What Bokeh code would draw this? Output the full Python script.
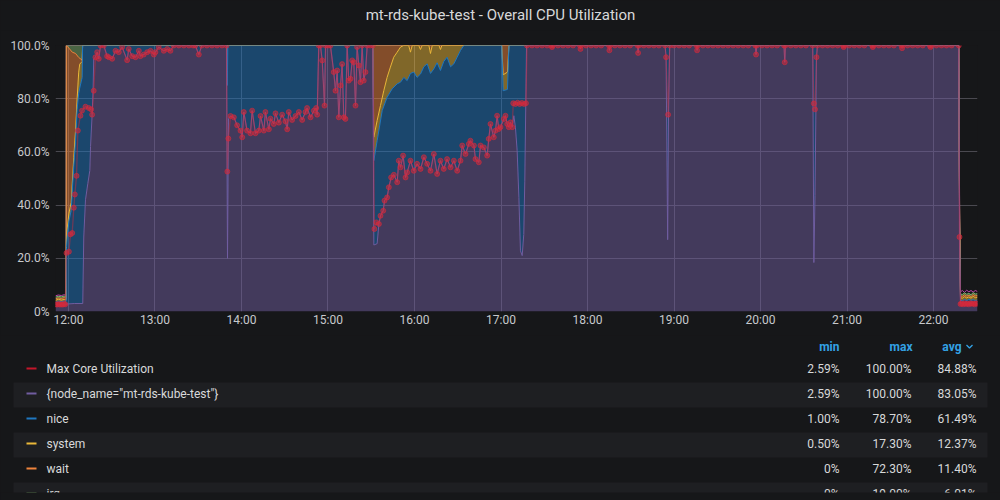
import numpy as np
from bokeh.plotting import figure
from bokeh.layouts import column
from bokeh.models import FixedTicker, Range1d
from bokeh.core.properties import value
from bokeh.embed import file_html
from bokeh.resources import INLINE

# ---------------- data (time = minutes after 12:00, value = %) ----------------
TITLE = "mt-rds-kube-test - Overall CPU Utilization"

X_TICKS = [0, 60, 120, 180, 240, 300, 360, 420, 480, 540, 600]
X_TICK_LABELS = ["12:00", "13:00", "14:00", "15:00", "16:00", "17:00",
                 "18:00", "19:00", "20:00", "21:00", "22:00"]
Y_TICKS = [0, 20, 40, 60, 80, 100]
Y_TICK_LABELS = ["0%", "20.0%", "40.0%", "60.0%", "80.0%", "100.0%"]

# {node_name="mt-rds-kube-test"} (violet, stacked base)
NODE = [(-9.0, 2.8), (-7.0, 2.6), (-5.0, 2.9), (-3.0, 2.7), (-1.6, 2.8),
        (4.0, 3.0), (9.9, 3.0),
        (10.6, 28.0), (11.8, 42.0), (13.4, 48.0), (14.8, 53.0), (15.3, 62.0), (16.4, 74.0), (17.1, 84.0), (17.5, 95.0),
        (18.7, 95.6), (19.9, 97.5), (21.0, 95.0), (22.2, 100.0), (24.5, 100.0), (26.8, 96.0), (28.0, 95.6), (30.3, 95.0),
        (32.6, 98.0), (34.9, 97.5), (37.2, 99.4), (40.7, 94.5), (41.8, 98.7), (44.2, 96.0), (46.5, 95.6), (48.8, 98.0),
        (49.9, 96.0), (52.2, 96.6), (54.6, 97.5), (56.9, 98.0), (59.2, 96.6), (60.3, 97.5), (62.6, 99.4), (66.1, 98.0),
        (68.5, 98.7), (70.7, 98.0), (73.0, 100.0), (88.0, 100.0), (90.4, 96.6), (92.5, 100.0), (109.6, 100.0),
        (110.3, 20.0), (111.0, 72.5), (112.4, 73.5), (114.7, 73.0), (117.0, 70.0), (119.3, 68.0), (120.5, 65.5),
        (121.6, 75.0), (123.9, 68.0), (126.2, 67.0), (127.4, 75.5), (129.7, 67.0), (132.0, 68.0), (133.2, 73.5),
        (135.5, 68.0), (136.6, 75.0), (139.0, 68.5), (140.1, 72.5), (142.4, 70.5), (143.6, 74.5), (145.9, 71.0),
        (148.2, 74.0), (150.5, 71.5), (151.7, 68.5), (152.8, 75.0), (155.1, 72.0), (157.5, 73.5), (159.8, 75.0),
        (162.1, 72.0), (164.4, 75.0), (165.5, 76.5), (167.9, 73.0), (170.2, 75.5), (171.8, 76.5), (172.5, 74.0),
        (173.6, 100.0), (174.8, 100.0), (176.0, 94.4), (177.6, 77.4), (178.3, 100.0), (181.7, 100.0), (184.0, 90.0),
        (185.2, 83.0), (186.4, 90.6), (187.5, 73.0), (188.7, 85.0), (189.8, 93.0), (191.0, 73.0), (192.1, 72.4),
        (193.3, 100.0), (194.4, 86.8), (195.6, 87.5), (196.8, 94.4), (197.9, 93.7), (199.1, 77.4), (200.2, 99.4),
        (201.4, 92.5), (202.5, 86.2), (203.7, 100.0), (204.8, 86.8), (206.0, 90.0), (207.2, 100.0), (211.1, 100.0),
        (211.8, 25.0), (214.1, 25.5), (215.3, 32.9), (216.4, 36.0), (218.3, 37.9), (219.2, 41.7), (221.0, 42.9),
        (222.2, 46.7), (223.8, 50.4), (225.7, 51.4), (228.0, 48.6), (229.1, 56.7), (230.3, 54.2), (232.1, 58.6),
        (233.8, 50.4), (234.9, 52.3), (237.2, 56.7), (239.5, 52.9), (241.8, 55.5), (244.2, 53.6), (246.5, 58.0),
        (248.8, 55.5), (251.1, 52.9), (253.4, 59.2), (255.7, 51.7), (258.0, 56.7), (260.3, 53.6), (262.6, 57.3),
        (265.0, 54.2), (267.3, 56.7), (269.6, 52.9), (271.9, 56.7), (273.1, 62.4), (275.4, 59.2), (277.7, 63.0),
        (278.8, 64.2), (281.2, 62.4), (282.3, 57.3), (284.6, 56.1), (285.8, 62.4), (288.1, 61.7), (290.4, 58.6),
        (291.5, 64.9), (292.7, 70.5), (295.0, 65.5), (296.2, 68.0), (297.3, 73.6), (298.5, 68.6), (299.6, 69.3),
        (302.0, 72.4), (303.1, 73.6), (304.3, 70.5), (305.4, 69.3), (306.6, 71.1), (307.8, 69.3), (308.9, 73.6),
        (310.0, 69.3), (311.2, 60.5), (312.4, 42.9), (313.5, 22.8), (314.7, 21.0), (315.8, 29.0), (316.5, 49.0),
        (317.7, 100.0),
        (335.0, 100.0), (335.4, 99.4), (336.0, 100.0), (354.7, 100.0), (355.1, 98.7), (355.6, 100.0),
        (374.8, 100.0), (375.2, 98.2), (375.7, 100.0), (394.7, 100.0), (395.1, 97.2), (395.6, 100.0),
        (413.8, 100.0), (414.5, 95.6), (415.6, 27.0), (416.2, 74.0), (417.0, 100.0),
        (435.6, 100.0), (436.0, 98.2), (436.5, 100.0), (476.4, 100.0), (476.9, 96.6), (477.4, 100.0),
        (496.3, 100.0), (496.8, 93.7), (497.3, 100.0),
        (516.2, 100.0), (517.0, 18.4), (517.8, 43.6), (518.8, 95.6), (519.5, 100.0),
        (537.2, 100.0), (537.7, 99.4), (538.2, 100.0), (557.4, 100.0), (557.9, 99.4), (558.4, 100.0),
        (577.7, 100.0), (578.2, 99.0), (578.7, 100.0), (597.4, 100.0), (597.9, 99.4), (598.4, 100.0),
        (617.5, 100.0), (618.1, 26.0), (618.7, 3.1), (620.0, 2.9), (621.5, 3.3), (623.0, 2.8), (624.5, 3.2),
        (626.0, 2.9), (627.5, 3.3), (629.0, 3.0), (630.5, 3.1)]

# stacked top edge of "nice" (blue)
NICE_TOP = [(-9.0, 3.6), (-7.0, 3.9), (-5.0, 3.7), (-3.0, 3.9), (-1.6, 3.8), (-1.4, 24.0), (-0.9, 28.0),
            (0.3, 34.0), (1.9, 38.0), (2.6, 45.0), (3.7, 55.0), (4.9, 64.0), (6.0, 76.0), (7.1, 82.0),
            (7.8, 84.0), (9.5, 88.0), (9.8, 100.0), (110.0, 100.0), (110.2, 85.0), (110.5, 100.0),
            (211.1, 100.0), (211.8, 56.7), (214.1, 64.2), (217.6, 75.5), (221.0, 80.5), (224.5, 83.7),
            (228.0, 85.6), (230.3, 86.2), (232.6, 88.0), (234.9, 86.8), (237.2, 89.5), (239.5, 90.0),
            (241.8, 88.0), (244.2, 89.3), (246.5, 92.0), (248.8, 93.1), (251.1, 89.5), (253.4, 91.2),
            (255.7, 93.5), (258.0, 90.6), (260.3, 94.0), (262.6, 95.6), (265.0, 92.0), (267.3, 93.1),
            (269.6, 95.6), (271.9, 98.1), (274.2, 100.0), (300.5, 100.0), (301.5, 83.0), (304.5, 83.5),
            (305.5, 100.0), (617.5, 100.0), (618.1, 27.0), (618.7, 4.3), (620.0, 4.0), (621.5, 4.5),
            (623.0, 4.1), (624.5, 4.6), (626.0, 4.2), (627.5, 4.5), (629.0, 4.1), (630.5, 4.3)]

# stacked top edge of "system" (yellow)
SYS_TOP = [(-9.0, 4.2), (-7.0, 4.6), (-5.0, 4.3), (-3.0, 4.5), (-1.6, 4.4), (-1.4, 27.0), (-0.9, 31.0),
           (0.3, 37.0), (1.9, 41.0), (2.6, 48.0), (3.7, 58.0), (4.9, 68.0), (6.0, 80.0), (7.1, 90.0),
           (7.8, 93.0), (9.5, 94.0), (9.8, 100.0), (211.1, 100.0), (211.8, 65.5), (214.1, 71.8),
           (216.4, 77.4), (218.7, 83.0), (221.0, 88.0), (223.3, 91.9), (225.6, 95.6), (228.0, 97.5),
           (230.3, 99.4), (232.4, 100.0), (236.0, 100.0), (237.2, 97.5), (238.4, 100.0), (243.0, 100.0),
           (244.1, 98.5), (245.3, 100.0), (250.0, 100.0), (251.1, 97.0), (252.3, 100.0), (257.0, 100.0),
           (258.0, 98.5), (259.0, 100.0), (300.5, 100.0), (301.5, 89.0), (304.5, 90.0), (305.5, 100.0),
           (617.5, 100.0), (618.1, 31.0), (618.7, 5.2), (620.0, 5.0), (621.5, 5.6), (623.0, 5.1),
           (624.5, 5.5), (626.0, 5.0), (627.5, 5.7), (629.0, 5.2), (630.5, 5.4)]

# stacked top edge of "wait" (orange)
WAIT_TOP = [(-9.0, 4.8), (-7.0, 5.1), (-5.0, 4.9), (-3.0, 5.2), (-1.6, 5.0), (-1.5, 100.0), (0.3, 99.0),
            (2.6, 97.5), (4.9, 97.0), (7.1, 95.5), (9.5, 94.5), (9.8, 100.0), (617.5, 100.0), (618.1, 34.0),
            (618.7, 5.9), (620.0, 5.7), (621.5, 6.3), (623.0, 5.8), (624.5, 6.1), (626.0, 5.6), (627.5, 6.4),
            (629.0, 5.9), (630.5, 6.0)]

# stacked top edge of "irq" (green)
IRQ_TOP = [(-9.0, 5.4), (-7.0, 5.7), (-5.0, 5.5), (-3.0, 5.8), (-1.6, 5.6), (-1.5, 100.0), (617.5, 100.0),
           (618.1, 37.0), (618.7, 6.6), (620.0, 6.4), (621.5, 7.0), (623.0, 6.5), (624.5, 6.8), (626.0, 6.3),
           (627.5, 7.1), (629.0, 6.6), (630.5, 6.7)]

# stacked top edge of "softirq" (pink line)
SOFTIRQ_TOP = [(-9.0, 5.9), (-7.0, 6.2), (-5.0, 6.0), (-3.0, 6.3), (-1.6, 6.1), (-1.5, 100.0), (617.5, 100.0),
               (618.1, 40.0), (618.7, 7.4), (620.0, 7.9), (621.5, 7.2), (623.0, 8.0), (624.5, 7.4), (626.0, 7.9),
               (627.5, 7.3), (629.0, 7.9), (630.5, 7.5)]

# Max Core Utilization (red points)
MAX_CORE = [(-9.0, 2.7), (-8.0, 2.6), (-7.0, 2.8), (-6.0, 2.6), (-5.0, 2.7), (-4.0, 2.6), (-3.0, 2.8), (-2.2, 2.7),
            (-1.4, 22.0), (0.3, 22.5), (1.4, 29.0), (2.6, 29.5), (3.7, 39.0), (4.4, 44.0), (5.6, 51.0), (6.5, 68.0),
            (8.3, 73.6), (9.4, 75.5), (11.8, 77.0), (14.1, 76.5), (15.7, 76.0), (16.4, 74.0), (17.5, 83.0),
            (18.7, 95.6), (19.9, 97.5), (21.0, 95.0), (22.2, 100.0), (24.5, 100.0), (26.8, 96.0), (28.0, 95.6),
            (30.3, 95.0), (32.6, 98.0), (34.9, 97.5), (37.2, 99.4), (40.7, 94.5), (41.8, 98.7), (44.2, 96.0),
            (46.5, 95.6), (48.8, 98.0), (49.9, 96.0), (52.2, 96.6), (54.6, 97.5), (56.9, 98.0), (59.2, 96.6),
            (60.3, 97.5), (62.6, 99.4), (66.1, 98.0), (68.5, 98.7), (70.7, 98.0), (73.0, 100.0), (76.5, 100.0),
            (80.0, 100.0), (83.5, 100.0), (86.5, 100.0), (88.0, 100.0), (90.4, 96.6), (92.5, 100.0), (96.0, 100.0),
            (99.5, 100.0), (103.0, 100.0), (106.5, 100.0), (109.6, 100.0),
            (110.2, 52.6), (110.9, 65.0), (112.4, 73.5), (114.7, 73.0), (117.0, 70.0), (119.3, 68.0), (120.5, 65.5),
            (121.6, 75.0), (123.9, 68.0), (126.2, 67.0), (127.4, 75.5), (129.7, 67.0), (132.0, 68.0), (133.2, 73.5),
            (135.5, 68.0), (136.6, 75.0), (139.0, 68.5), (140.1, 72.5), (142.4, 70.5), (143.6, 74.5), (145.9, 71.0),
            (148.2, 74.0), (150.5, 71.5), (151.7, 68.5), (152.8, 75.0), (155.1, 72.0), (157.5, 73.5), (159.8, 75.0),
            (162.1, 72.0), (164.4, 75.0), (165.5, 76.5), (167.9, 73.0), (170.2, 75.5), (171.8, 76.5), (172.5, 74.0),
            (173.6, 100.0), (174.8, 100.0), (176.0, 94.4), (177.6, 77.4), (178.3, 100.0), (180.0, 100.0),
            (181.7, 100.0), (184.0, 90.0),
            (185.2, 83.0), (186.4, 90.6), (187.5, 73.0), (188.7, 85.0), (189.8, 93.0), (191.0, 73.0), (192.1, 72.4),
            (193.3, 100.0), (194.4, 86.8), (195.6, 87.5), (196.8, 94.4), (197.9, 93.7), (199.1, 77.4), (200.2, 99.4),
            (201.4, 92.5), (202.5, 86.2), (203.7, 100.0), (204.8, 86.8), (206.0, 90.0), (207.2, 100.0), (209.2, 100.0),
            (211.1, 100.0),
            (212.2, 31.0), (213.6, 33.5), (215.3, 32.9), (216.4, 36.0), (218.3, 37.9), (219.2, 41.7), (221.0, 42.9),
            (222.2, 46.7), (223.8, 50.4), (225.7, 51.4), (228.0, 48.6), (229.1, 56.7), (230.3, 54.2), (232.1, 58.6),
            (233.8, 50.4), (234.9, 52.3), (237.2, 56.7), (239.5, 52.9), (241.8, 55.5), (244.2, 53.6), (246.5, 58.0),
            (248.8, 55.5), (251.1, 52.9), (253.4, 59.2), (255.7, 51.7), (258.0, 56.7), (260.3, 53.6), (262.6, 57.3),
            (265.0, 54.2), (267.3, 56.7), (269.6, 52.9), (271.9, 56.7), (273.1, 62.4), (275.4, 59.2), (277.7, 63.0),
            (278.8, 64.2), (281.2, 62.4), (282.3, 57.3), (284.6, 56.1), (285.8, 62.4), (288.1, 61.7), (290.4, 58.6),
            (291.5, 64.9), (292.7, 70.5), (295.0, 65.5), (296.2, 68.0), (297.3, 73.6), (298.5, 68.6), (299.6, 69.3),
            (302.0, 72.4), (303.1, 73.6), (304.3, 70.5), (305.4, 69.3), (306.6, 71.1), (307.8, 69.3),
            (308.5, 78.3), (310.0, 78.0), (311.5, 78.5), (313.0, 78.0), (314.5, 78.4), (316.0, 78.0), (317.3, 78.3),
            (318.0, 100.0), (321.5, 100.0), (325.0, 100.0), (328.5, 100.0), (332.0, 100.0),
            (335.0, 100.0), (335.4, 99.4), (336.0, 100.0), (339.5, 100.0), (343.0, 100.0), (346.5, 100.0),
            (350.0, 100.0), (354.7, 100.0), (355.1, 98.7), (355.6, 100.0), (359.0, 100.0), (362.5, 100.0),
            (366.0, 100.0), (369.5, 100.0), (374.8, 100.0), (375.2, 98.2), (375.7, 100.0), (379.0, 100.0),
            (382.5, 100.0), (386.0, 100.0), (389.5, 100.0), (394.7, 100.0), (395.1, 97.2), (395.6, 100.0),
            (399.0, 100.0), (402.5, 100.0), (406.0, 100.0), (409.5, 100.0),
            (413.8, 100.0), (414.5, 95.6), (415.9, 74.0), (417.0, 100.0), (420.0, 100.0), (423.5, 100.0),
            (427.0, 100.0), (430.5, 100.0),
            (435.6, 100.0), (436.0, 98.2), (436.5, 100.0), (440.0, 100.0), (443.5, 100.0), (447.0, 100.0),
            (450.5, 100.0), (454.0, 100.0), (457.5, 100.0), (461.0, 100.0), (464.5, 100.0), (468.0, 100.0),
            (471.5, 100.0), (476.4, 100.0), (476.9, 96.6), (477.4, 100.0), (481.0, 100.0), (484.5, 100.0),
            (488.0, 100.0), (491.5, 100.0), (496.3, 100.0), (496.8, 93.7), (497.3, 100.0), (501.0, 100.0),
            (504.5, 100.0), (508.0, 100.0), (511.5, 100.0),
            (516.2, 100.0), (517.0, 78.2), (517.8, 76.0), (518.8, 95.6), (519.5, 100.0), (523.0, 100.0),
            (526.5, 100.0), (530.0, 100.0), (533.5, 100.0),
            (537.2, 100.0), (537.7, 99.4), (538.2, 100.0), (541.5, 100.0), (545.0, 100.0), (548.5, 100.0),
            (552.0, 100.0), (557.4, 100.0), (557.9, 99.4), (558.4, 100.0), (562.0, 100.0), (565.5, 100.0),
            (569.0, 100.0), (572.5, 100.0), (577.7, 100.0), (578.2, 99.0), (578.7, 100.0), (582.0, 100.0),
            (585.5, 100.0), (589.0, 100.0), (592.5, 100.0), (597.4, 100.0), (597.9, 99.4), (598.4, 100.0),
            (602.0, 100.0), (605.5, 100.0), (609.0, 100.0), (612.5, 100.0),
            (617.5, 100.0), (618.0, 28.0), (618.7, 2.8), (619.5, 3.0), (620.5, 2.7), (621.5, 3.1), (622.5, 2.8),
            (623.5, 3.0), (624.5, 2.7), (625.5, 3.1), (626.5, 2.9), (627.5, 3.0), (628.5, 2.7), (629.5, 3.1),
            (630.5, 2.9)]

LEGEND_NAMES = ["Max Core Utilization", '{node_name="mt-rds-kube-test"}', "nice", "system", "wait", "irq"]
LEGEND_COLORS = ["#c4162a", "#705da0", "#1f78c1", "#eab839", "#ef843c", "#7eb26d"]
LEGEND_MIN = ["2.59%", "2.59%", "1.00%", "0.50%", "0%", "0%"]
LEGEND_MAX = ["100.00%", "100.00%", "78.70%", "17.30%", "72.30%", "19.00%"]
LEGEND_AVG = ["84.88%", "83.05%", "61.49%", "12.37%", "11.40%", "6.01%"]
LEGEND_HEADERS = ["min", "max", "avg"]

# ---------------- styling ----------------
BG = "#161719"
ROW_BG = "#1e1f22"
TEXT = "#d8d9da"
AXIS_TEXT = "#c7c9cc"
HEADER = "#33a2e5"
C_NODE, C_NICE, C_SYS, C_WAIT, C_IRQ, C_SOFT, C_MAX = "#705da0", "#1f78c1", "#eab839", "#ef843c", "#7eb26d", "#ba43a9", "#d42a3c"
FONT = "Roboto"


def unzip(pairs):
    a = np.array(pairs, dtype=float)
    return a[:, 0], np.minimum(a[:, 1], 100.0)


def blank(w, h, yr):
    f = figure(width=w, height=h, x_range=Range1d(0, w), y_range=Range1d(*yr),
               output_backend="svg", toolbar_location=None, x_axis_type=None, y_axis_type=None,
               min_border=0, frame_align=False)
    f.grid.visible = False
    f.outline_line_color = None
    f.background_fill_color = BG
    f.border_fill_color = BG
    return f


# title
ft = blank(1000, 30, (30, 0))
ft.text(x=[500], y=[14], text=[TITLE], text_align="center", text_baseline="middle",
        text_font=value(FONT), text_font_size="15px", text_color=TEXT)

# main chart
p = figure(width=1000, height=305, x_range=Range1d(-9.0, 630.5), y_range=Range1d(0, 100),
           output_backend="svg", toolbar_location=None, frame_align=False,
           min_border_left=55, min_border_right=23, min_border_top=15, min_border_bottom=24)
p.background_fill_color = BG
p.border_fill_color = BG
p.outline_line_color = None

for ax, ticks, labels in ((p.xaxis, X_TICKS, X_TICK_LABELS), (p.yaxis, Y_TICKS, Y_TICK_LABELS)):
    ax.ticker = FixedTicker(ticks=ticks)
    ax.major_label_overrides = {t: l for t, l in zip(ticks, labels)}
    ax.axis_line_color = None
    ax.major_tick_line_color = None
    ax.minor_tick_line_color = None
    ax.major_tick_out = 0
    ax.major_tick_in = 0
    ax.major_label_text_font = FONT
    ax.major_label_text_font_size = "12px"
    ax.major_label_text_color = AXIS_TEXT
p.xaxis.major_label_standoff = 1
p.yaxis.major_label_standoff = 6
p.xgrid.ticker = FixedTicker(ticks=X_TICKS)
p.ygrid.ticker = FixedTicker(ticks=Y_TICKS)
p.grid.grid_line_color = "#4a4950"
p.grid.grid_line_alpha = 1.0

curves = [unzip(NODE), unzip(NICE_TOP), unzip(SYS_TOP), unzip(WAIT_TOP), unzip(IRQ_TOP)]
fills = [C_NODE, C_NICE, C_SYS, C_WAIT, C_IRQ]
t0 = curves[0][0]
lower = (np.array([t0[0], t0[-1]]), np.array([0.0, 0.0]))
for (tu, vu), col in zip(curves, fills):
    tl, vl = lower
    p.patch(np.concatenate([tu, tl[::-1]]), np.concatenate([vu, vl[::-1]]),
            fill_color=col, fill_alpha=0.5, line_color=None)
    lower = (tu, vu)

ts, vs = unzip(SOFTIRQ_TOP)
p.line(ts, vs, line_color=C_SOFT, line_width=1)
for (tu, vu), col in reversed(list(zip(curves, fills))):
    p.line(tu, vu, line_color=col, line_width=1)

tm, vm = unzip(MAX_CORE)
p.line(tm, vm, line_color=C_MAX, line_width=1.3, line_alpha=0.45)
p.scatter(tm, vm, size=5, fill_color=C_MAX, fill_alpha=0.55, line_color=C_MAX, line_alpha=0.6)

# legend table
fl = blank(1000, 165, (165, 0))
ROW0, STEP = 33, 25
for i in range(len(LEGEND_NAMES)):
    if i % 2 == 1:
        y = ROW0 + STEP * i
        fl.quad(left=13, right=987, top=y - 11, bottom=y + 14, fill_color=ROW_BG, line_color=None)
ys = [ROW0 + STEP * i for i in range(len(LEGEND_NAMES))]
fl.segment(x0=[26] * len(ys), x1=[36] * len(ys), y0=ys, y1=ys, line_color=LEGEND_COLORS, line_width=2)
common = dict(text_baseline="middle", text_font=value(FONT), text_font_size="12px")
fl.text(x=[46] * len(ys), y=ys, text=LEGEND_NAMES, text_color=TEXT, **common)
for xr, vals in ((839, LEGEND_MIN), (911, LEGEND_MAX), (976, LEGEND_AVG)):
    fl.text(x=[xr] * len(ys), y=ys, text=vals, text_align="right", text_color=TEXT, **common)
fl.text(x=[839, 912, 961], y=[11, 11, 11], text=LEGEND_HEADERS, text_align="right",
        text_color=HEADER, text_font_style="bold", **common)
fl.line([966, 969, 972], [9.5, 12.5, 9.5], line_color=HEADER, line_width=1.3)
fl.quad(left=0, right=1000, top=157, bottom=165, fill_color=BG, line_color=None)

layout = column(ft, p, fl, spacing=0)
html = file_html(layout, INLINE)
html = html.replace("<head>", "<head><style>html,body{margin:0;padding:0;background:#161719;}</style>", 1)
open("out.html", "w").write(html)
